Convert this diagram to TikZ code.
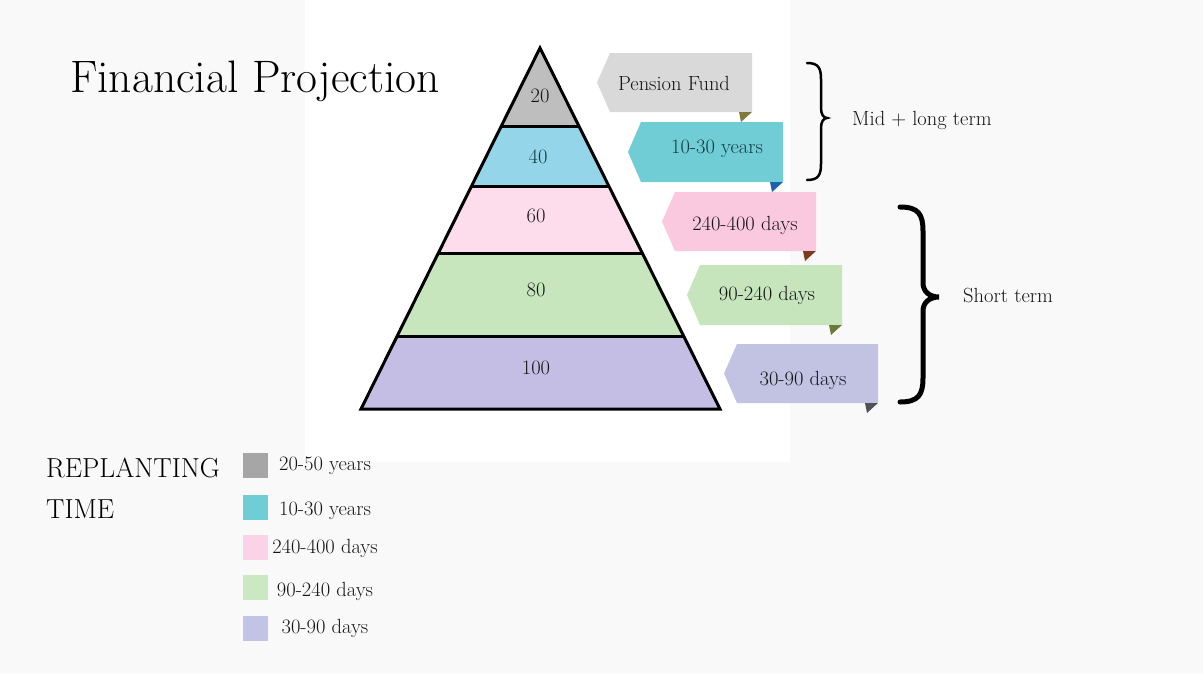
\documentclass[tikz,border=0pt]{standalone}
\usepackage{fontspec}
\usetikzlibrary{calc}

% band fills
\definecolor{bandA}{HTML}{BEBEBE}
\definecolor{bandB}{HTML}{94D5EA}
\definecolor{bandC}{HTML}{FDDDEB}
\definecolor{bandD}{HTML}{C8E6BE}
\definecolor{bandE}{HTML}{C5BEE4}
% ribbon fills
\definecolor{tagA}{HTML}{D9D9D9}
\definecolor{tagB}{HTML}{70CDD6}
\definecolor{tagC}{HTML}{FAC9E0}
\definecolor{tagD}{HTML}{C6E5BD}
\definecolor{tagE}{HTML}{C2C2E3}
% ribbon folds
\definecolor{foldA}{HTML}{7D7A3C}
\definecolor{foldB}{HTML}{1E5FAF}
\definecolor{foldC}{HTML}{7E3A1C}
\definecolor{foldD}{HTML}{6B7A3A}
\definecolor{foldE}{HTML}{505058}
% legend swatches
\definecolor{keyA}{HTML}{A6A6A6}
\definecolor{keyB}{HTML}{6FCDD6}
\definecolor{keyC}{HTML}{FBD3E6}
\definecolor{keyD}{HTML}{CAE8C2}
\definecolor{keyE}{HTML}{C3C3E6}
\definecolor{pagebg}{HTML}{F9F9F9}
\definecolor{ink}{HTML}{151515}
\definecolor{tealink}{HTML}{123A44}

% ribbon: #1 name, #2 point x, #3 right x, #4 top y, #5 bottom y, #6 colour letter
\newcommand{\ribbon}[6]{%
  \fill[tag#6] (#2,{(#4+#5)/2}) -- (#2+13,#4) -- (#3,#4) -- (#3,#5) -- (#2+13,#5) -- cycle;
  \fill[fold#6] (#3-13,#5) -- (#3,#5) -- (#3-11,#5+10) -- cycle;
  \coordinate (#1) at ({(#2+13+#3)/2},{(#4+#5)/2});
}
% curly brace: x ends, x body, x tip, y top, y bottom, y middle, end radius, tip radius
\newcommand{\curly}[8]{%
  (#1,#4) .. controls ({#1+0.8*(#2-#1)},#4) and (#2,{#4+0.3*#7}) .. (#2,#4+#7)
  -- (#2,#6-#8) .. controls (#2,{#6-0.4*#8}) and ({#2+0.4*(#3-#2)},#6) .. (#3,#6)
  .. controls ({#2+0.4*(#3-#2)},#6) and (#2,{#6+0.4*#8}) .. (#2,#6+#8)
  -- (#2,#5-#7) .. controls (#2,{#5-0.3*#7}) and ({#1+0.8*(#2-#1)},#5) .. (#1,#5)
}

\begin{document}
\begin{tikzpicture}[x=1pt,y=-1pt,
  small/.style={font=\fontsize{20.5}{24}\selectfont, text=ink, inner sep=0pt},
  bandlabel/.style={small, anchor=base},
  tagtext/.style={small, anchor=base},
  keytext/.style={small, anchor=base},
  swatch/.style={minimum width=25pt, minimum height=25pt, inner sep=0pt},
  outline/.style={line width=3pt, line join=miter, draw=black}]

\useasboundingbox (0,0) rectangle (1203,673);
\fill[pagebg] (0,0) rectangle (1203,673);
\fill[white] (305,0) rectangle (790,462);

% title
\node[anchor=base west, inner sep=0pt, font=\fontsize{45.5}{50}\selectfont] (title) at (70,92) {Financial Projection};

% pyramid corners and band edges
\coordinate (A) at (540,48);
\coordinate (BL) at (361,409);
\coordinate (BR) at (720,409);
\coordinate (L1) at ($(A)!0.2188!(BL)$); \coordinate (R1) at ($(A)!0.2188!(BR)$);
\coordinate (L2) at ($(A)!0.3823!(BL)$); \coordinate (R2) at ($(A)!0.3823!(BR)$);
\coordinate (L3) at ($(A)!0.5706!(BL)$); \coordinate (R3) at ($(A)!0.5706!(BR)$);
\coordinate (L4) at ($(A)!0.7978!(BL)$); \coordinate (R4) at ($(A)!0.7978!(BR)$);

\fill[bandA] (A) -- (R1) -- (L1) -- cycle;
\fill[bandB] (L1) -- (R1) -- (R2) -- (L2) -- cycle;
\fill[bandC] (L2) -- (R2) -- (R3) -- (L3) -- cycle;
\fill[bandD] (L3) -- (R3) -- (R4) -- (L4) -- cycle;
\fill[bandE] (L4) -- (R4) -- (BR) -- (BL) -- cycle;

\draw[outline] (L1) -- (R1) (L2) -- (R2) (L3) -- (R3) (L4) -- (R4);
\draw[outline] (A) -- (BR) -- (BL) -- cycle;

\node[bandlabel] (n20) at (540,102) {20};
\node[bandlabel, text=tealink] (n40) at (538,163) {40};
\node[bandlabel] (n60) at (536,222) {60};
\node[bandlabel] (n80) at (536,296) {80};
\node[bandlabel] (n100) at (536,374) {100};

% ribbons
\ribbon{rA}{597}{752}{53}{112}{A}
\ribbon{rB}{628}{783}{122}{182}{B}
\ribbon{rC}{662}{816}{192}{251}{C}
\ribbon{rD}{687}{842}{265}{325}{D}
\ribbon{rE}{724}{878}{344}{403}{E}

\node[tagtext] (tA) at (674,90) {Pension Fund};
\node[tagtext, text=tealink] (tB) at (717,153) {10-30 years};
\node[tagtext] (tC) at (745,230) {240-400 days};
\node[tagtext] (tD) at (767,300) {90-240 days};
\node[tagtext] (tE) at (803,385) {30-90 days};

% braces
\draw[line width=2.5pt, line cap=round] \curly{807}{821}{827}{63}{180}{118}{16}{10};
\draw[line width=5pt, line cap=round] \curly{900}{923}{939}{207}{402}{297}{24}{14};
\node[small, anchor=base west] (mid) at (852,125) {Mid + long term};
\node[small, anchor=base west] (short) at (963,302) {Short term};

% legend
\node[anchor=base west, inner sep=0pt, font=\fontsize{27.5}{30}\selectfont] (rep) at (46,477) {REPLANTING};
\node[anchor=base west, inner sep=0pt, font=\fontsize{27.5}{30}\selectfont] (time) at (46,518) {TIME};

\node[swatch, fill=keyA] (kA) at (255.5,465.5) {};
\node[swatch, fill=keyB] (kB) at (255.5,507) {};
\node[swatch, fill=keyC] (kC) at (255.5,547) {};
\node[swatch, fill=keyD] (kD) at (255.5,587.5) {};
\node[swatch, fill=keyE] (kE) at (255.5,628) {};

\node[keytext] (kAt) at (325,470) {20-50 years};
\node[keytext] (kBt) at (325,515) {10-30 years};
\node[keytext] (kCt) at (325,553) {240-400 days};
\node[keytext] (kDt) at (325,596) {90-240 days};
\node[keytext] (kEt) at (325,633) {30-90 days};
\end{tikzpicture}
\end{document}
